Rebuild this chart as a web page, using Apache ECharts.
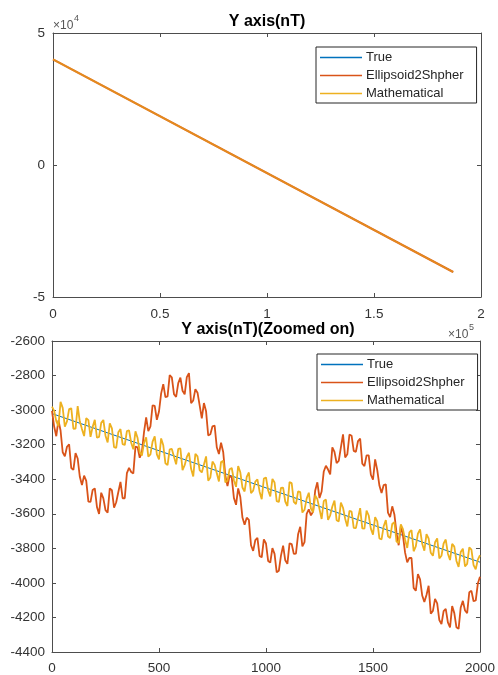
<!DOCTYPE html>
<html>
<head>
<meta charset="utf-8">
<title>Y axis(nT)</title>
<script src="https://cdn.jsdelivr.net/npm/echarts@6/dist/echarts.min.js"></script>
<style>
  html, body { margin: 0; padding: 0; background: #fff; }
  #chart { width: 498px; height: 675px; }
</style>
</head>
<body>
<div id="chart"></div>
<script>
// series names
const names = ["True", "Ellipsoid2Shpher", "Mathematical"];

// top plot: full range, x and y values
const topX = [0, 187000];
const topTrue = [40000, -40500];
const topEllipsoid = [40000, -40500];
const topMath = [40000, -40500];

// bottom plot (zoomed on): one sample every 10 points
const zoomStep = 10;
const zoomTrueX = [0, 2000];
const zoomTrue = [-3020, -3880];
const zoomEllipsoid = [
  -3005, -3095, -3151, -3059, -3118, -3244, -3268, -3212, -3198, -3335,
  -3346, -3249, -3280, -3386, -3434, -3379, -3410, -3530, -3531, -3462,
  -3453, -3560, -3601, -3478, -3511, -3579, -3594, -3453, -3464, -3565,
  -3533, -3474, -3416, -3510, -3510, -3365, -3334, -3358, -3367, -3211,
  -3215, -3276, -3243, -3127, -3042, -3122, -3094, -2972, -2976, -3056,
  -3008, -2903, -2850, -2925, -2921, -2798, -2810, -2908, -2923, -2844,
  -2812, -2888, -2909, -2809, -2786, -2960, -2944, -2879, -2899, -2973,
  -3048, -2959, -3007, -3147, -3140, -3094, -3090, -3215, -3254, -3189,
  -3242, -3379, -3439, -3379, -3390, -3508, -3548, -3453, -3503, -3622,
  -3664, -3623, -3635, -3782, -3815, -3753, -3740, -3844, -3852, -3748,
  -3772, -3873, -3882, -3799, -3832, -3939, -3930, -3842, -3784, -3869,
  -3890, -3771, -3775, -3832, -3830, -3719, -3675, -3789, -3764, -3601,
  -3574, -3609, -3587, -3465, -3418, -3509, -3471, -3355, -3322, -3344,
  -3372, -3216, -3242, -3306, -3294, -3216, -3140, -3274, -3256, -3141,
  -3148, -3236, -3242, -3179, -3165, -3310, -3324, -3262, -3262, -3374,
  -3403, -3285, -3347, -3437, -3480, -3434, -3430, -3593, -3619, -3557,
  -3604, -3711, -3782, -3671, -3725, -3825, -3881, -3855, -3856, -4029,
  -4046, -3949, -3979, -4073, -4110, -4070, -4017, -4178, -4162, -4093,
  -4118, -4215, -4239, -4163, -4150, -4228, -4257, -4134, -4175, -4257,
  -4266, -4142, -4104, -4160, -4175, -4054, -4046, -4106, -4102, -4004,
  -3965
];
const zoomMath = [
  -2980, -3004, -3064, -3093, -2952, -2987, -3096, -3065, -2994, -2989,
  -3108, -3107, -2977, -3066, -3110, -3150, -3047, -3058, -3155, -3097,
  -3056, -3160, -3155, -3074, -3057, -3148, -3187, -3076, -3106, -3215,
  -3219, -3128, -3110, -3197, -3202, -3121, -3117, -3189, -3227, -3123,
  -3162, -3241, -3263, -3190, -3157, -3269, -3256, -3182, -3152, -3256,
  -3285, -3164, -3204, -3308, -3318, -3227, -3225, -3270, -3314, -3224,
  -3222, -3347, -3319, -3271, -3247, -3340, -3384, -3253, -3268, -3347,
  -3361, -3315, -3268, -3409, -3390, -3298, -3317, -3366, -3413, -3300,
  -3294, -3418, -3409, -3342, -3335, -3406, -3444, -3324, -3360, -3448,
  -3471, -3386, -3361, -3480, -3466, -3414, -3401, -3472, -3516, -3396,
  -3390, -3464, -3499, -3398, -3419, -3527, -3532, -3450, -3448, -3529,
  -3555, -3417, -3422, -3531, -3544, -3470, -3475, -3593, -3577, -3512,
  -3478, -3570, -3591, -3494, -3515, -3573, -3630, -3526, -3518, -3635,
  -3609, -3558, -3524, -3637, -3644, -3536, -3565, -3629, -3673, -3583,
  -3588, -3681, -3683, -3625, -3567, -3684, -3686, -3582, -3610, -3686,
  -3721, -3619, -3644, -3743, -3748, -3672, -3637, -3730, -3741, -3659,
  -3648, -3762, -3767, -3661, -3689, -3750, -3798, -3708, -3694, -3817,
  -3789, -3715, -3690, -3774, -3814, -3718, -3743, -3826, -3843, -3765,
  -3742, -3858, -3843, -3772, -3749, -3831, -3868, -3774, -3790, -3873,
  -3907, -3821, -3802, -3905, -3890, -3794, -3807, -3897, -3921, -3866,
  -3840
];

// tick labels
const topXTicks = ["0", "0.5", "1", "1.5", "2"];
const topYTicks = ["-5", "0", "5"];
const zoomXTicks = ["0", "500", "1000", "1500", "2000"];
const zoomYTicks = ["-4400", "-4200", "-4000", "-3800", "-3600", "-3400", "-3200", "-3000", "-2800", "-2600"];

const colors = ["#0072BD", "#D95319", "#EDB120"];
const font = "'Liberation Sans', Arial, sans-serif";
const axisColor = "#4d4d4d";
const labelColor = "#333333";

function pairs(xs, ys) {
  return ys.map((v, i) => [xs[i], v]);
}
function stepPairs(ys) {
  return ys.map((v, i) => [i * zoomStep, v]);
}

// one side of the box, labels only on bottom / left
function axis(gridIndex, position, min, max, interval, ticks, showLabel, margin) {
  return {
    type: "value",
    gridIndex: gridIndex,
    position: position,
    min: min,
    max: max,
    interval: interval,
    axisLine: { show: true, onZero: false, lineStyle: { color: axisColor, width: 1 } },
    axisTick: { show: true, inside: true, length: 4, lineStyle: { color: axisColor } },
    splitLine: { show: false },
    axisLabel: {
      show: showLabel,
      margin: margin,
      color: labelColor,
      fontSize: 13.5,
      fontFamily: font,
      formatter: function (v) {
        let idx = Math.round((v - min) / interval);
        return ticks[idx];
      }
    }
  };
}

function legend(left, top) {
  return {
    data: names.map((n, i) => ({
      name: n,
      itemStyle: { color: colors[i], borderWidth: 0, opacity: 1 }
    })),
    orient: "vertical",
    left: left,
    top: top,
    icon: "rect",
    itemWidth: 42,
    itemHeight: 1.6,
    itemGap: 5,
    padding: [4, 13, 3, 4],
    borderColor: "#262626",
    borderWidth: 1,
    borderRadius: 0,
    backgroundColor: "#ffffff",
    selectedMode: false,
    textStyle: { fontSize: 13, color: "#262626", fontFamily: font, padding: [0, 0, 0, -1] }
  };
}

let myChart = echarts.init(document.getElementById("chart"));
let option = {
  animation: false,
  backgroundColor: "#ffffff",
  color: colors,
  title: [
    {
      text: "Y axis(nT)",
      left: 262, top: 9, textAlign: "center",
      textStyle: { fontSize: 16, fontWeight: "bold", color: "#000", fontFamily: font }
    },
    {
      text: "Y axis(nT)(Zoomed on)",
      left: 263, top: 317, textAlign: "center",
      textStyle: { fontSize: 16, fontWeight: "bold", color: "#000", fontFamily: font }
    }
  ],
  legend: [legend(316, 47), legend(317, 354)],
  grid: [
    { left: 53, right: 17, top: 33, bottom: 378 },
    { left: 52, right: 16, top: 341, bottom: 23 }
  ],
  xAxis: [
    axis(0, "bottom", 0, 200000, 50000, topXTicks, true, 10),
    axis(0, "top", 0, 200000, 50000, topXTicks, false, 8),
    axis(1, "bottom", 0, 2000, 500, zoomXTicks, true, 9),
    axis(1, "top", 0, 2000, 500, zoomXTicks, false, 8)
  ],
  yAxis: [
    axis(0, "left", -50000, 50000, 50000, topYTicks, true, 8),
    axis(0, "right", -50000, 50000, 50000, topYTicks, false, 8),
    axis(1, "left", -4400, -2600, 200, zoomYTicks, true, 7),
    axis(1, "right", -4400, -2600, 200, zoomYTicks, false, 8)
  ],
  graphic: [
    { type: "text", left: 53, top: 20, style: { text: "\u00d710", fill: "#555", font: "12px " + font } },
    { type: "text", left: 74, top: 14, style: { text: "4", fill: "#555", font: "9px " + font } },
    { type: "text", left: 448, top: 329, style: { text: "\u00d710", fill: "#555", font: "12px " + font } },
    { type: "text", left: 469, top: 323, style: { text: "5", fill: "#555", font: "9px " + font } }
  ],
  series: [
    {
      name: names[0], type: "line", xAxisIndex: 0, yAxisIndex: 0,
      symbol: "none", lineStyle: { width: 1, color: colors[0] },
      data: pairs(topX, topTrue)
    },
    {
      name: names[1], type: "line", xAxisIndex: 0, yAxisIndex: 0,
      symbol: "none", lineStyle: { width: 2.2, color: colors[1] },
      data: pairs(topX, topEllipsoid)
    },
    {
      name: names[2], type: "line", xAxisIndex: 0, yAxisIndex: 0,
      symbol: "none", lineStyle: { width: 1.8, color: colors[2], opacity: 0.6 },
      data: pairs(topX, topMath)
    },
    {
      name: names[0], type: "line", xAxisIndex: 2, yAxisIndex: 2,
      symbol: "none", lineStyle: { width: 1, color: colors[0] },
      data: pairs(zoomTrueX, zoomTrue)
    },
    {
      name: names[1], type: "line", xAxisIndex: 2, yAxisIndex: 2,
      symbol: "none", lineStyle: { width: 1.8, color: colors[1] },
      data: stepPairs(zoomEllipsoid)
    },
    {
      name: names[2], type: "line", xAxisIndex: 2, yAxisIndex: 2,
      symbol: "none", lineStyle: { width: 1.8, color: colors[2] },
      data: stepPairs(zoomMath)
    }
  ]
};
myChart.setOption(option, true);
</script>
</body>
</html>
